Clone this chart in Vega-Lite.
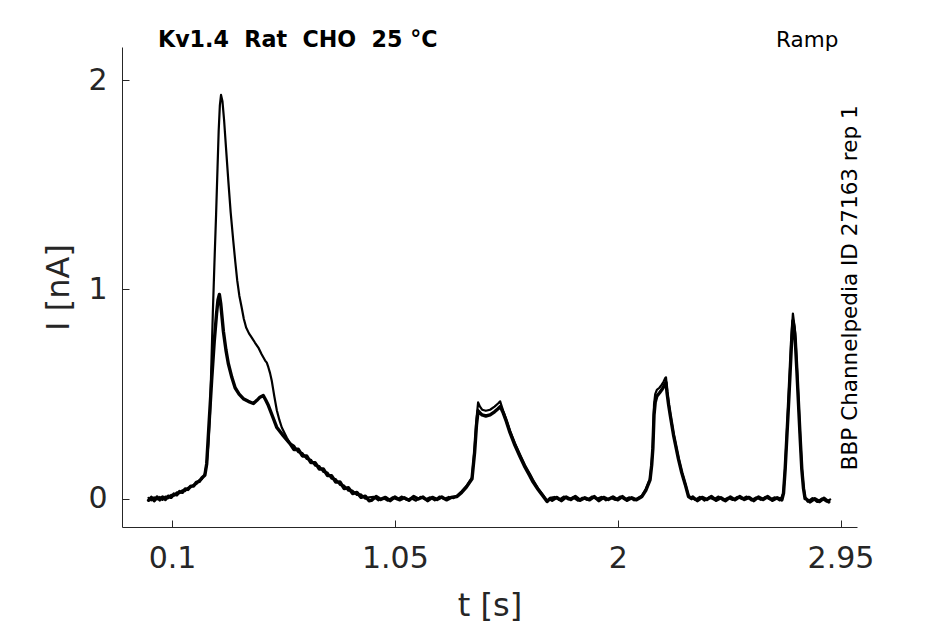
{
  "$schema": "https://vega.github.io/schema/vega-lite/v6.json",
  "width": 735,
  "height": 480,
  "autosize": {"type": "none"},
  "padding": {"left": 122, "top": 47, "right": 88, "bottom": 97},
  "background": "white",
  "config": {
    "view": {"stroke": null},
    "font": "DejaVu Sans",
    "axis": {
      "grid": false,
      "domainColor": "#262626",
      "domainWidth": 1,
      "tickColor": "#262626",
      "tickWidth": 1,
      "tickSize": -7,
      "labelFont": "DejaVu Sans",
      "labelFontSize": 30,
      "labelColor": "#262626",
      "titleFont": "DejaVu Sans",
      "titleFontSize": 32,
      "titleFontWeight": "normal",
      "titleColor": "#262626"
    }
  },
  "datasets": {
    "trace": [
      {"t":0.000,"I":0.004,"s":"a"},{"t":0.012,"I":-0.008,"s":"a"},{"t":0.024,"I":0.006,"s":"a"},{"t":0.036,"I":-0.004,"s":"a"},
      {"t":0.048,"I":0.008,"s":"a"},{"t":0.060,"I":-0.006,"s":"a"},{"t":0.072,"I":0.010,"s":"a"},{"t":0.084,"I":0.002,"s":"a"},
      {"t":0.096,"I":0.018,"s":"a"},{"t":0.108,"I":0.014,"s":"a"},{"t":0.120,"I":0.030,"s":"a"},{"t":0.132,"I":0.026,"s":"a"},
      {"t":0.144,"I":0.040,"s":"a"},{"t":0.156,"I":0.036,"s":"a"},{"t":0.168,"I":0.052,"s":"a"},{"t":0.180,"I":0.055,"s":"a"},
      {"t":0.192,"I":0.066,"s":"a"},{"t":0.204,"I":0.070,"s":"a"},{"t":0.216,"I":0.088,"s":"a"},{"t":0.228,"I":0.094,"s":"a"},
      {"t":0.240,"I":0.118,"s":"a"},{"t":0.248,"I":0.167,"s":"a"},{"t":0.255,"I":0.26,"s":"a"},{"t":0.262,"I":0.407,"s":"a"},
      {"t":0.268,"I":0.65,"s":"a"},{"t":0.274,"I":0.885,"s":"a"},{"t":0.281,"I":1.13,"s":"a"},{"t":0.288,"I":1.36,"s":"a"},
      {"t":0.294,"I":1.58,"s":"a"},{"t":0.299,"I":1.76,"s":"a"},{"t":0.304,"I":1.88,"s":"a"},{"t":0.309,"I":1.93,"s":"a"},
      {"t":0.315,"I":1.90,"s":"a"},{"t":0.322,"I":1.81,"s":"a"},{"t":0.330,"I":1.68,"s":"a"},{"t":0.340,"I":1.52,"s":"a"},
      {"t":0.350,"I":1.37,"s":"a"},{"t":0.361,"I":1.234,"s":"a"},{"t":0.370,"I":1.13,"s":"a"},{"t":0.378,"I":1.043,"s":"a"},
      {"t":0.387,"I":0.97,"s":"a"},{"t":0.397,"I":0.914,"s":"a"},{"t":0.406,"I":0.86,"s":"a"},{"t":0.416,"I":0.818,"s":"a"},
      {"t":0.428,"I":0.79,"s":"a"},{"t":0.440,"I":0.77,"s":"a"},{"t":0.454,"I":0.745,"s":"a"},{"t":0.468,"I":0.722,"s":"a"},
      {"t":0.482,"I":0.69,"s":"a"},{"t":0.497,"I":0.66,"s":"a"},{"t":0.504,"I":0.65,"s":"a"},{"t":0.511,"I":0.627,"s":"a"},
      {"t":0.518,"I":0.60,"s":"a"},{"t":0.525,"I":0.565,"s":"a"},{"t":0.536,"I":0.49,"s":"a"},{"t":0.547,"I":0.421,"s":"a"},
      {"t":0.558,"I":0.375,"s":"a"},{"t":0.568,"I":0.34,"s":"a"},{"t":0.579,"I":0.315,"s":"a"},{"t":0.589,"I":0.292,"s":"a"},
      {"t":0.603,"I":0.265,"s":"a"},{"t":0.620,"I":0.253,"s":"a"},{"t":0.638,"I":0.222,"s":"a"},{"t":0.656,"I":0.218,"s":"a"},
      {"t":0.674,"I":0.190,"s":"a"},{"t":0.692,"I":0.186,"s":"a"},{"t":0.710,"I":0.158,"s":"a"},{"t":0.728,"I":0.156,"s":"a"},
      {"t":0.745,"I":0.128,"s":"a"},{"t":0.763,"I":0.124,"s":"a"},{"t":0.780,"I":0.096,"s":"a"},{"t":0.798,"I":0.093,"s":"a"},
      {"t":0.816,"I":0.066,"s":"a"},{"t":0.834,"I":0.062,"s":"a"},{"t":0.852,"I":0.038,"s":"a"},{"t":0.870,"I":0.038,"s":"a"},
      {"t":0.888,"I":0.018,"s":"a"},{"t":0.906,"I":0.020,"s":"a"},{"t":0.924,"I":0.000,"s":"a"},{"t":0.940,"I":0.006,"s":"a"},
      {"t":0.96,"I":0.008,"s":"a"},{"t":0.98,"I":-0.008,"s":"a"},{"t":1.00,"I":0.004,"s":"a"},{"t":1.02,"I":-0.010,"s":"a"},
      {"t":1.04,"I":0.006,"s":"a"},{"t":1.06,"I":-0.004,"s":"a"},{"t":1.08,"I":0.010,"s":"a"},{"t":1.10,"I":-0.006,"s":"a"},
      {"t":1.12,"I":0.002,"s":"a"},{"t":1.14,"I":-0.010,"s":"a"},{"t":1.16,"I":0.008,"s":"a"},{"t":1.18,"I":-0.004,"s":"a"},
      {"t":1.20,"I":0.006,"s":"a"},{"t":1.22,"I":-0.008,"s":"a"},{"t":1.24,"I":0.010,"s":"a"},{"t":1.26,"I":-0.002,"s":"a"},
      {"t":1.28,"I":0.008,"s":"a"},{"t":1.30,"I":0.002,"s":"a"},
      {"t":1.315,"I":0.014,"s":"a"},{"t":1.335,"I":0.035,"s":"a"},{"t":1.355,"I":0.06,"s":"a"},{"t":1.379,"I":0.10,"s":"a"},
      {"t":1.390,"I":0.24,"s":"a"},{"t":1.398,"I":0.38,"s":"a"},{"t":1.405,"I":0.46,"s":"a"},{"t":1.413,"I":0.44,"s":"a"},
      {"t":1.422,"I":0.425,"s":"a"},{"t":1.438,"I":0.42,"s":"a"},{"t":1.456,"I":0.425,"s":"a"},{"t":1.475,"I":0.44,"s":"a"},
      {"t":1.490,"I":0.455,"s":"a"},{"t":1.499,"I":0.465,"s":"a"},{"t":1.506,"I":0.44,"s":"a"},{"t":1.512,"I":0.42,"s":"a"},
      {"t":1.525,"I":0.38,"s":"a"},{"t":1.541,"I":0.325,"s":"a"},{"t":1.562,"I":0.265,"s":"a"},{"t":1.584,"I":0.21,"s":"a"},
      {"t":1.605,"I":0.16,"s":"a"},{"t":1.625,"I":0.12,"s":"a"},{"t":1.639,"I":0.09,"s":"a"},{"t":1.660,"I":0.05,"s":"a"},
      {"t":1.680,"I":0.02,"s":"a"},{"t":1.699,"I":-0.01,"s":"a"},{"t":1.712,"I":0.004,"s":"a"},
      {"t":1.73,"I":0.008,"s":"a"},{"t":1.75,"I":-0.006,"s":"a"},{"t":1.77,"I":0.010,"s":"a"},{"t":1.79,"I":-0.004,"s":"a"},
      {"t":1.81,"I":0.006,"s":"a"},{"t":1.83,"I":-0.010,"s":"a"},{"t":1.85,"I":0.004,"s":"a"},{"t":1.87,"I":-0.006,"s":"a"},
      {"t":1.89,"I":0.010,"s":"a"},{"t":1.91,"I":-0.002,"s":"a"},{"t":1.93,"I":0.008,"s":"a"},{"t":1.95,"I":-0.008,"s":"a"},
      {"t":1.97,"I":0.004,"s":"a"},{"t":1.99,"I":-0.006,"s":"a"},{"t":2.01,"I":0.010,"s":"a"},{"t":2.03,"I":-0.004,"s":"a"},
      {"t":2.05,"I":0.006,"s":"a"},{"t":2.07,"I":-0.008,"s":"a"},{"t":2.09,"I":0.006,"s":"a"},
      {"t":2.103,"I":0.014,"s":"a"},{"t":2.120,"I":0.045,"s":"a"},{"t":2.138,"I":0.096,"s":"a"},{"t":2.145,"I":0.17,"s":"a"},
      {"t":2.150,"I":0.26,"s":"a"},{"t":2.155,"I":0.45,"s":"a"},{"t":2.160,"I":0.50,"s":"a"},{"t":2.167,"I":0.52,"s":"a"},
      {"t":2.178,"I":0.53,"s":"a"},{"t":2.188,"I":0.545,"s":"a"},{"t":2.196,"I":0.56,"s":"a"},{"t":2.202,"I":0.575,"s":"a"},
      {"t":2.206,"I":0.58,"s":"a"},{"t":2.210,"I":0.53,"s":"a"},{"t":2.217,"I":0.46,"s":"a"},{"t":2.224,"I":0.407,"s":"a"},
      {"t":2.238,"I":0.311,"s":"a"},{"t":2.259,"I":0.196,"s":"a"},{"t":2.273,"I":0.13,"s":"a"},{"t":2.288,"I":0.072,"s":"a"},
      {"t":2.302,"I":0.014,"s":"a"},{"t":2.315,"I":0.004,"s":"a"},
      {"t":2.33,"I":-0.006,"s":"a"},{"t":2.35,"I":0.008,"s":"a"},{"t":2.37,"I":-0.010,"s":"a"},{"t":2.39,"I":0.006,"s":"a"},
      {"t":2.41,"I":-0.004,"s":"a"},{"t":2.43,"I":0.010,"s":"a"},{"t":2.45,"I":-0.008,"s":"a"},{"t":2.47,"I":0.004,"s":"a"},
      {"t":2.49,"I":-0.006,"s":"a"},{"t":2.51,"I":0.008,"s":"a"},{"t":2.53,"I":-0.002,"s":"a"},{"t":2.55,"I":0.010,"s":"a"},
      {"t":2.57,"I":-0.008,"s":"a"},{"t":2.59,"I":0.006,"s":"a"},{"t":2.61,"I":-0.006,"s":"a"},{"t":2.63,"I":0.008,"s":"a"},
      {"t":2.65,"I":-0.004,"s":"a"},{"t":2.67,"I":0.006,"s":"a"},{"t":2.69,"I":-0.008,"s":"a"},{"t":2.70,"I":0.010,"s":"a"},
      {"t":2.707,"I":0.029,"s":"a"},{"t":2.714,"I":0.15,"s":"a"},{"t":2.721,"I":0.31,"s":"a"},{"t":2.728,"I":0.47,"s":"a"},
      {"t":2.735,"I":0.628,"s":"a"},{"t":2.741,"I":0.78,"s":"a"},{"t":2.747,"I":0.885,"s":"a"},{"t":2.752,"I":0.84,"s":"a"},
      {"t":2.757,"I":0.79,"s":"a"},{"t":2.764,"I":0.63,"s":"a"},{"t":2.771,"I":0.469,"s":"a"},{"t":2.778,"I":0.30,"s":"a"},
      {"t":2.785,"I":0.15,"s":"a"},{"t":2.792,"I":0.06,"s":"a"},{"t":2.799,"I":0.006,"s":"a"},
      {"t":2.81,"I":-0.014,"s":"a"},{"t":2.83,"I":0.002,"s":"a"},{"t":2.85,"I":-0.016,"s":"a"},{"t":2.87,"I":0.0,"s":"a"},
      {"t":2.89,"I":-0.014,"s":"a"},{"t":2.906,"I":-0.004,"s":"a"},

      {"t":0.000,"I":-0.008,"s":"b"},{"t":0.012,"I":0.006,"s":"b"},{"t":0.024,"I":-0.010,"s":"b"},{"t":0.036,"I":0.008,"s":"b"},
      {"t":0.048,"I":-0.006,"s":"b"},{"t":0.060,"I":0.008,"s":"b"},{"t":0.072,"I":-0.004,"s":"b"},{"t":0.084,"I":0.012,"s":"b"},
      {"t":0.096,"I":0.006,"s":"b"},{"t":0.108,"I":0.022,"s":"b"},{"t":0.120,"I":0.018,"s":"b"},{"t":0.132,"I":0.034,"s":"b"},
      {"t":0.144,"I":0.030,"s":"b"},{"t":0.156,"I":0.046,"s":"b"},{"t":0.168,"I":0.044,"s":"b"},{"t":0.180,"I":0.060,"s":"b"},
      {"t":0.192,"I":0.060,"s":"b"},{"t":0.204,"I":0.078,"s":"b"},{"t":0.216,"I":0.082,"s":"b"},{"t":0.228,"I":0.100,"s":"b"},
      {"t":0.240,"I":0.112,"s":"b"},{"t":0.248,"I":0.167,"s":"b"},{"t":0.258,"I":0.36,"s":"b"},{"t":0.269,"I":0.565,"s":"b"},
      {"t":0.280,"I":0.75,"s":"b"},{"t":0.290,"I":0.885,"s":"b"},{"t":0.296,"I":0.95,"s":"b"},{"t":0.302,"I":0.976,"s":"b"},
      {"t":0.308,"I":0.93,"s":"b"},{"t":0.319,"I":0.80,"s":"b"},{"t":0.330,"I":0.71,"s":"b"},{"t":0.340,"I":0.646,"s":"b"},
      {"t":0.355,"I":0.58,"s":"b"},{"t":0.369,"I":0.53,"s":"b"},{"t":0.386,"I":0.50,"s":"b"},{"t":0.404,"I":0.478,"s":"b"},
      {"t":0.425,"I":0.465,"s":"b"},{"t":0.447,"I":0.455,"s":"b"},{"t":0.462,"I":0.47,"s":"b"},{"t":0.475,"I":0.485,"s":"b"},
      {"t":0.489,"I":0.493,"s":"b"},{"t":0.500,"I":0.47,"s":"b"},{"t":0.511,"I":0.445,"s":"b"},{"t":0.528,"I":0.395,"s":"b"},
      {"t":0.547,"I":0.34,"s":"b"},{"t":0.575,"I":0.30,"s":"b"},{"t":0.603,"I":0.263,"s":"b"},
      {"t":0.620,"I":0.235,"s":"b"},{"t":0.638,"I":0.236,"s":"b"},{"t":0.656,"I":0.204,"s":"b"},{"t":0.674,"I":0.204,"s":"b"},
      {"t":0.692,"I":0.172,"s":"b"},{"t":0.710,"I":0.172,"s":"b"},{"t":0.728,"I":0.142,"s":"b"},{"t":0.745,"I":0.142,"s":"b"},
      {"t":0.763,"I":0.110,"s":"b"},{"t":0.780,"I":0.110,"s":"b"},{"t":0.798,"I":0.079,"s":"b"},{"t":0.816,"I":0.080,"s":"b"},
      {"t":0.834,"I":0.048,"s":"b"},{"t":0.852,"I":0.052,"s":"b"},{"t":0.870,"I":0.024,"s":"b"},{"t":0.888,"I":0.030,"s":"b"},
      {"t":0.906,"I":0.006,"s":"b"},{"t":0.924,"I":0.012,"s":"b"},{"t":0.940,"I":-0.010,"s":"b"},
      {"t":0.95,"I":-0.008,"s":"b"},{"t":0.97,"I":0.010,"s":"b"},{"t":0.99,"I":-0.004,"s":"b"},{"t":1.01,"I":0.006,"s":"b"},
      {"t":1.03,"I":-0.010,"s":"b"},{"t":1.05,"I":0.008,"s":"b"},{"t":1.07,"I":-0.006,"s":"b"},{"t":1.09,"I":0.004,"s":"b"},
      {"t":1.11,"I":-0.008,"s":"b"},{"t":1.13,"I":0.010,"s":"b"},{"t":1.15,"I":-0.002,"s":"b"},{"t":1.17,"I":0.008,"s":"b"},
      {"t":1.19,"I":-0.010,"s":"b"},{"t":1.21,"I":0.006,"s":"b"},{"t":1.23,"I":-0.004,"s":"b"},{"t":1.25,"I":0.008,"s":"b"},
      {"t":1.27,"I":-0.006,"s":"b"},{"t":1.29,"I":0.006,"s":"b"},
      {"t":1.315,"I":0.010,"s":"b"},{"t":1.335,"I":0.03,"s":"b"},{"t":1.355,"I":0.055,"s":"b"},{"t":1.379,"I":0.095,"s":"b"},
      {"t":1.390,"I":0.22,"s":"b"},{"t":1.398,"I":0.35,"s":"b"},{"t":1.405,"I":0.42,"s":"b"},{"t":1.413,"I":0.41,"s":"b"},
      {"t":1.422,"I":0.40,"s":"b"},{"t":1.438,"I":0.395,"s":"b"},{"t":1.456,"I":0.40,"s":"b"},{"t":1.475,"I":0.415,"s":"b"},
      {"t":1.490,"I":0.43,"s":"b"},{"t":1.499,"I":0.44,"s":"b"},{"t":1.506,"I":0.425,"s":"b"},{"t":1.512,"I":0.41,"s":"b"},
      {"t":1.525,"I":0.37,"s":"b"},{"t":1.541,"I":0.315,"s":"b"},{"t":1.562,"I":0.255,"s":"b"},{"t":1.584,"I":0.20,"s":"b"},
      {"t":1.605,"I":0.15,"s":"b"},{"t":1.625,"I":0.11,"s":"b"},{"t":1.639,"I":0.08,"s":"b"},{"t":1.660,"I":0.045,"s":"b"},
      {"t":1.680,"I":0.015,"s":"b"},{"t":1.699,"I":-0.014,"s":"b"},{"t":1.712,"I":0.0,"s":"b"},
      {"t":1.72,"I":-0.008,"s":"b"},{"t":1.74,"I":0.006,"s":"b"},{"t":1.76,"I":-0.010,"s":"b"},{"t":1.78,"I":0.008,"s":"b"},
      {"t":1.80,"I":-0.004,"s":"b"},{"t":1.82,"I":0.010,"s":"b"},{"t":1.84,"I":-0.008,"s":"b"},{"t":1.86,"I":0.004,"s":"b"},
      {"t":1.88,"I":-0.006,"s":"b"},{"t":1.90,"I":0.010,"s":"b"},{"t":1.92,"I":-0.010,"s":"b"},{"t":1.94,"I":0.006,"s":"b"},
      {"t":1.96,"I":-0.004,"s":"b"},{"t":1.98,"I":0.008,"s":"b"},{"t":2.00,"I":-0.006,"s":"b"},{"t":2.02,"I":0.010,"s":"b"},
      {"t":2.04,"I":-0.008,"s":"b"},{"t":2.06,"I":0.004,"s":"b"},{"t":2.08,"I":-0.006,"s":"b"},{"t":2.10,"I":0.008,"s":"b"},
      {"t":2.103,"I":0.010,"s":"b"},{"t":2.120,"I":0.04,"s":"b"},{"t":2.138,"I":0.09,"s":"b"},{"t":2.145,"I":0.16,"s":"b"},
      {"t":2.150,"I":0.24,"s":"b"},{"t":2.155,"I":0.40,"s":"b"},{"t":2.160,"I":0.46,"s":"b"},{"t":2.167,"I":0.49,"s":"b"},
      {"t":2.178,"I":0.505,"s":"b"},{"t":2.188,"I":0.52,"s":"b"},{"t":2.196,"I":0.535,"s":"b"},{"t":2.202,"I":0.55,"s":"b"},
      {"t":2.206,"I":0.555,"s":"b"},{"t":2.210,"I":0.51,"s":"b"},{"t":2.217,"I":0.45,"s":"b"},{"t":2.224,"I":0.40,"s":"b"},
      {"t":2.238,"I":0.305,"s":"b"},{"t":2.259,"I":0.19,"s":"b"},{"t":2.273,"I":0.125,"s":"b"},{"t":2.288,"I":0.068,"s":"b"},
      {"t":2.302,"I":0.01,"s":"b"},{"t":2.315,"I":0.0,"s":"b"},
      {"t":2.32,"I":0.008,"s":"b"},{"t":2.34,"I":-0.010,"s":"b"},{"t":2.36,"I":0.006,"s":"b"},{"t":2.38,"I":-0.004,"s":"b"},
      {"t":2.40,"I":0.010,"s":"b"},{"t":2.42,"I":-0.008,"s":"b"},{"t":2.44,"I":0.004,"s":"b"},{"t":2.46,"I":-0.010,"s":"b"},
      {"t":2.48,"I":0.008,"s":"b"},{"t":2.50,"I":-0.006,"s":"b"},{"t":2.52,"I":0.010,"s":"b"},{"t":2.54,"I":-0.004,"s":"b"},
      {"t":2.56,"I":0.006,"s":"b"},{"t":2.58,"I":-0.010,"s":"b"},{"t":2.60,"I":0.008,"s":"b"},{"t":2.62,"I":-0.004,"s":"b"},
      {"t":2.64,"I":0.010,"s":"b"},{"t":2.66,"I":-0.008,"s":"b"},{"t":2.68,"I":0.004,"s":"b"},{"t":2.70,"I":-0.006,"s":"b"},
      {"t":2.707,"I":0.025,"s":"b"},{"t":2.714,"I":0.14,"s":"b"},{"t":2.721,"I":0.29,"s":"b"},{"t":2.728,"I":0.44,"s":"b"},
      {"t":2.735,"I":0.60,"s":"b"},{"t":2.741,"I":0.74,"s":"b"},{"t":2.747,"I":0.85,"s":"b"},{"t":2.752,"I":0.82,"s":"b"},
      {"t":2.757,"I":0.76,"s":"b"},{"t":2.764,"I":0.61,"s":"b"},{"t":2.771,"I":0.45,"s":"b"},{"t":2.778,"I":0.29,"s":"b"},
      {"t":2.785,"I":0.14,"s":"b"},{"t":2.792,"I":0.05,"s":"b"},{"t":2.799,"I":0.0,"s":"b"},
      {"t":2.80,"I":0.002,"s":"b"},{"t":2.82,"I":-0.016,"s":"b"},{"t":2.84,"I":0.0,"s":"b"},{"t":2.86,"I":-0.014,"s":"b"},
      {"t":2.88,"I":0.002,"s":"b"},{"t":2.90,"I":-0.016,"s":"b"}
    ],
    "one": [{}]
  },
  "layer": [
    {
      "data": {"name": "trace"},
      "mark": {"type": "line", "color": "black", "strokeJoin": "round", "strokeCap": "round", "clip": false},
      "encoding": {
        "x": {
          "field": "t", "type": "quantitative",
          "scale": {"domain": [-0.1132, 3.0203], "nice": false, "zero": false},
          "axis": {"values": [0.1, 1.05, 2, 2.95], "format": ".3~g", "title": "t [s]", "labelPadding": 23, "titlePadding": 17, "labelFlush": false}
        },
        "y": {
          "field": "I", "type": "quantitative",
          "scale": {"domain": [-0.1356, 2.159], "nice": false, "zero": false},
          "axis": {"values": [0, 1, 2], "format": "d", "title": "I [nA]", "labelPadding": 22, "titlePadding": 12, "labelFlush": false}
        },
        "detail": {"field": "s"},
        "strokeWidth": {"field": "s", "type": "nominal", "scale": {"domain": ["a", "b"], "range": [2.2, 3.4]}, "legend": null}
      }
    },
    {
      "data": {"name": "one"},
      "mark": {"type": "text", "font": "DejaVu Sans", "fontWeight": "bold", "fontSize": 22.2, "align": "left", "baseline": "alphabetic", "color": "black"},
      "encoding": {
        "x": {"datum": 0.040, "type": "quantitative"},
        "y": {"datum": 2.16, "type": "quantitative"},
        "text": {"value": "Kv1.4\u00a0\u00a0Rat\u00a0\u00a0CHO\u00a0\u00a025\u00a0°C"}
      }
    },
    {
      "data": {"name": "one"},
      "mark": {"type": "text", "font": "DejaVu Sans", "fontSize": 21.5, "align": "center", "baseline": "alphabetic", "color": "black"},
      "encoding": {
        "x": {"datum": 2.808, "type": "quantitative"},
        "y": {"datum": 2.16, "type": "quantitative"},
        "text": {"value": "Ramp"}
      }
    },
    {
      "data": {"name": "one"},
      "mark": {"type": "text", "font": "DejaVu Sans", "fontSize": 21.5, "align": "center", "baseline": "alphabetic", "angle": 270, "color": "black"},
      "encoding": {
        "x": {"datum": 3.021, "type": "quantitative"},
        "y": {"datum": 1.008, "type": "quantitative"},
        "text": {"value": "BBP Channelpedia ID 27163 rep 1"}
      }
    }
  ]
}
